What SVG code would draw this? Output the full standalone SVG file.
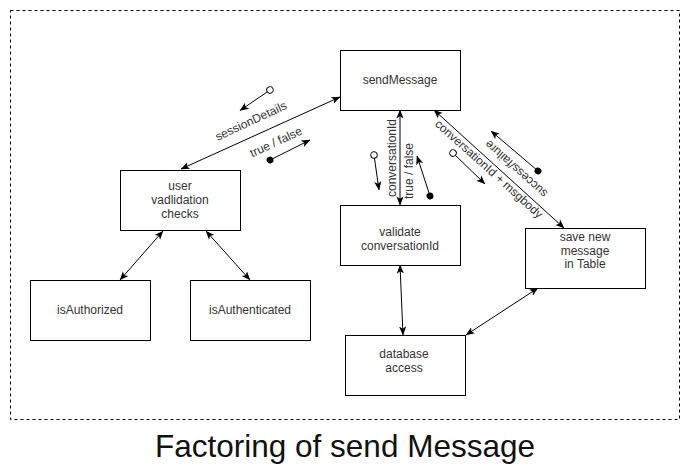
<svg xmlns="http://www.w3.org/2000/svg" width="691" height="476" viewBox="0 0 691 476">
<style>
.box{fill:#fff;stroke:#000;stroke-width:1}
.t{font-family:"Liberation Sans",Arial,sans-serif;font-size:12px;fill:#333;text-anchor:middle}
.lbl{font-family:"Liberation Sans",Arial,sans-serif;font-size:12px;fill:#333;text-anchor:middle;dominant-baseline:central}
.e{fill:none;stroke:#000;stroke-width:1}
.both{marker-start:url(#arr);marker-end:url(#arr)}
.open{marker-start:url(#ocirc);marker-end:url(#arr)}
.fill{marker-start:url(#fcirc);marker-end:url(#arr)}
</style>
<defs>
<marker id="arr" viewBox="0 0 10 10" refX="9.5" refY="5" markerWidth="9" markerHeight="9" orient="auto-start-reverse" markerUnits="userSpaceOnUse">
<path d="M0,1 L10,5 L0,9 L2.5,5 z" fill="#000"/>
</marker>
<marker id="ocirc" viewBox="0 0 10 10" refX="5" refY="5" markerWidth="9" markerHeight="9" orient="auto" markerUnits="userSpaceOnUse">
<circle cx="5" cy="5" r="3.6" fill="#fff" stroke="#000" stroke-width="1.1"/>
</marker>
<marker id="fcirc" viewBox="0 0 10 10" refX="5" refY="5" markerWidth="9" markerHeight="9" orient="auto" markerUnits="userSpaceOnUse">
<circle cx="5" cy="5" r="3.8" fill="#000"/>
</marker>
</defs>
<rect x="0" y="0" width="691" height="476" fill="#fff"/>
<rect x="10.5" y="10.5" width="669" height="409" fill="none" stroke="#000" stroke-width="1" stroke-dasharray="3,3"/>

<g id="connectors">
<line class="e both" x1="181" y1="169" x2="340" y2="97"/>
<line class="e both" x1="400" y1="110" x2="400" y2="205"/>
<line class="e both" x1="434" y1="110" x2="564" y2="228"/>
<line class="e both" x1="163" y1="231" x2="120" y2="280"/>
<line class="e both" x1="206" y1="231" x2="250" y2="280"/>
<line class="e both" x1="400" y1="265" x2="403" y2="335"/>
<line class="e both" x1="538" y1="288" x2="466" y2="335"/>

<line class="e open" x1="270" y1="90" x2="240" y2="110.5"/>
<line class="e fill" x1="270" y1="160" x2="310" y2="140"/>
<line class="e open" x1="374" y1="155" x2="379" y2="190"/>
<line class="e fill" x1="430" y1="196" x2="417" y2="156"/>
<line class="e open" x1="453" y1="153" x2="485" y2="184"/>
<line class="e fill" x1="538" y1="171" x2="491" y2="131"/>

<text class="lbl" transform="translate(251,121) rotate(-25)">sessionDetails</text>
<text class="lbl" transform="translate(276,142) rotate(-25)">true / false</text>
<text class="lbl" transform="translate(392,158) rotate(-90)">conversationId</text>
<text class="lbl" transform="translate(408.5,171) rotate(-90)">true / false</text>
<text class="lbl" transform="translate(489,169) rotate(42)">conversationId + msgbody</text>
<text class="lbl" transform="translate(516,169) rotate(222)">success/failure</text>
</g>

<g id="sendMessage">
<rect class="box" x="340.5" y="50.5" width="120" height="60"/>
<text class="t" x="400" y="84">sendMessage</text>
</g>
<g id="userValidation">
<rect class="box" x="120.5" y="170.5" width="120" height="60"/>
<text class="t" x="180" y="190">user</text>
<text class="t" x="180" y="204">vadlidation</text>
<text class="t" x="180" y="218">checks</text>
</g>
<g id="isAuthorized">
<rect class="box" x="30.5" y="280.5" width="120" height="60"/>
<text class="t" x="90" y="314">isAuthorized</text>
</g>
<g id="isAuthenticated">
<rect class="box" x="190.5" y="280.5" width="120" height="60"/>
<text class="t" x="250" y="314">isAuthenticated</text>
</g>
<g id="validateConversationId">
<rect class="box" x="340.5" y="205.5" width="120" height="60"/>
<text class="t" x="400" y="236">validate</text>
<text class="t" x="400" y="250">conversationId</text>
</g>
<g id="saveNewMessage">
<rect class="box" x="525.5" y="228.5" width="120" height="60"/>
<text class="t" x="585" y="241">save new</text>
<text class="t" x="585" y="255">message</text>
<text class="t" x="585" y="268">in Table</text>
</g>
<g id="databaseAccess">
<rect class="box" x="345.5" y="335.5" width="120" height="60"/>
<text class="t" x="404" y="358">database</text>
<text class="t" x="404" y="372">access</text>
</g>

<text x="345" y="457" font-family="'Liberation Sans',Arial,sans-serif" font-size="31.5" fill="#111" text-anchor="middle">Factoring of send Message</text>
</svg>
